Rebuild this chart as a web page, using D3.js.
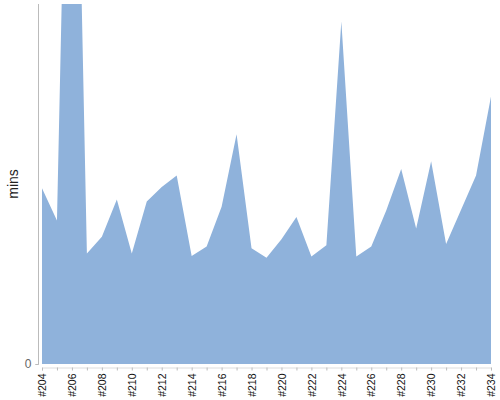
<!DOCTYPE html>
<html>
<head>
<meta charset="utf-8">
<script src="https://cdn.jsdelivr.net/npm/d3@7"></script>
<style>
  body { margin: 0; background: #fff; }
  svg { display: block; font-family: "Liberation Sans", Arial, sans-serif; }
</style>
</head>
<body>
<script>
// builds #204 .. #234
const builds = ["#204","#205","#206","#207","#208","#209","#210","#211","#212","#213",
  "#214","#215","#216","#217","#218","#219","#220","#221","#222","#223","#224",
  "#225","#226","#227","#228","#229","#230","#231","#232","#233","#234"];
const mins = [29.3, 23.9, 139, 18.4, 21.2, 27.4, 18.4, 27.1, 29.5, 31.4,
  18, 19.6, 26.2, 38.3, 19.3, 17.7, 20.8, 24.5, 17.9, 19.8, 57.1,
  17.9, 19.6, 25.6, 32.5, 22.6, 33.8, 20, 25.7, 31.4, 44.6];
const yDomain = [0, 60];
const xLabels = builds.filter((d, i) => i % 2 === 0);

const width = 500, height = 400;
const svg = d3.select("body").append("svg")
    .attr("width", width).attr("height", height);

const x = d3.scalePoint().domain(builds).range([42, 491]);
const y = d3.scaleLinear().domain(yDomain).range([364, 4]);

svg.append("clipPath").attr("id", "plot")
  .append("rect").attr("x", 40).attr("y", 4).attr("width", 455).attr("height", 361);

const area = d3.area()
    .x((d, i) => x(builds[i]))
    .y0(y(0))
    .y1(d => y(d));

svg.append("path")
    .datum(mins)
    .attr("clip-path", "url(#plot)")
    .attr("d", area)
    .style("fill", "#8fb2db");

// y axis
const yAxis = svg.append("g")
    .attr("transform", "translate(38.5,0)")
    .call(d3.axisLeft(y).tickValues([0]).tickSize(3).tickPadding(4));
yAxis.select(".domain").attr("d", "M-3,364.5H0V4").style("stroke", "#bbb");
yAxis.selectAll(".tick line").style("stroke", "#bbb");
yAxis.selectAll(".tick text").style("font-size", "12px").style("fill", "#666");

svg.append("text")
    .attr("transform", "translate(18,184) rotate(-90)")
    .attr("text-anchor", "middle")
    .style("font-size", "14px")
    .style("fill", "#222")
    .text("mins");

// x axis
const xAxis = svg.append("g")
    .attr("transform", "translate(0,367.5)")
    .call(d3.axisBottom(x).tickSize(3).tickPadding(4));
xAxis.select(".domain").style("stroke", "#ddd");
xAxis.selectAll(".tick line").style("stroke", "#bbb");
xAxis.selectAll(".tick text")
    .text(d => xLabels.includes(d) ? d : "")
    .attr("transform", "rotate(-90)")
    .attr("text-anchor", "end")
    .attr("x", -6).attr("y", 0).attr("dy", "0.35em")
    .style("font-size", "10.5px")
    .style("fill", "#111");
</script>
</body>
</html>
